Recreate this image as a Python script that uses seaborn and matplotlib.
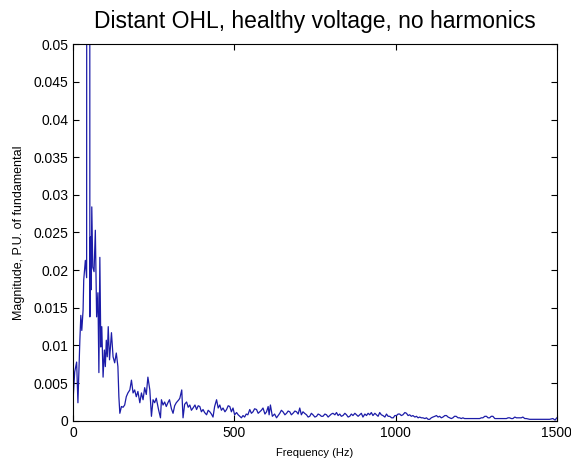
import matplotlib
matplotlib.use("Agg")
import matplotlib.pyplot as plt
import seaborn as sns

# spectrum (Hz, per-unit of the 50 Hz fundamental)
freq = [0, 5, 11, 15, 21, 24, 27, 31, 33, 38, 42, 48, 52, 54, 56, 58, 61, 65, 69, 73,
        77, 80, 83, 86, 89, 93, 97, 100, 103, 106, 109, 113, 119, 124, 129, 134, 139, 142, 145, 150,
        155, 160, 165, 170, 176, 181, 186, 191, 196, 201, 207, 212, 217, 222, 227, 232, 238, 243, 248, 253,
        258, 265, 271, 274, 279, 284, 289, 294, 299, 305, 310, 315, 320, 328, 331, 337, 341, 346, 352, 357,
        362, 367, 372, 378, 383, 388, 393, 398, 403, 408, 414, 419, 424, 429, 434, 439, 445, 450, 455, 460,
        465, 471, 476, 481, 486, 491, 496, 501, 507, 512, 517, 522, 527, 532, 537, 542, 548, 553, 558, 563,
        569, 574, 579, 584, 589, 595, 600, 605, 608, 612, 618, 625, 631, 636, 641, 646, 651, 657, 662, 667,
        672, 677, 682, 688, 693, 698, 703, 708, 713, 718, 724, 729, 734, 739, 744, 750, 755, 760, 765, 770,
        775, 781, 786, 791, 796, 801, 806, 812, 817, 822, 827, 832, 837, 843, 848, 853, 858, 863, 868, 874,
        879, 884, 889, 894, 899, 905, 910, 915, 920, 925, 930, 936, 941, 946, 951, 956, 961, 967, 972, 977,
        982, 988, 993, 998, 1003, 1008, 1013, 1018, 1023, 1029, 1034, 1039, 1044, 1049, 1054, 1060, 1065, 1070, 1075, 1080,
        1085, 1091, 1096, 1101, 1106, 1111, 1116, 1122, 1127, 1132, 1137, 1142, 1147, 1153, 1158, 1163, 1168, 1173, 1178, 1183,
        1188, 1194, 1199, 1204, 1209, 1214, 1220, 1230, 1245, 1261, 1266, 1271, 1277, 1282, 1287, 1292, 1297, 1302, 1308, 1313,
        1323, 1344, 1349, 1354, 1359, 1364, 1370, 1375, 1380, 1385, 1390, 1395, 1401, 1406, 1416, 1437, 1447, 1457, 1478, 1488,
        1495, 1500]
magnitude = [0.0028, 0.0065, 0.0078, 0.0024, 0.0107, 0.0140, 0.0120, 0.0147, 0.0187, 0.0213, 0.0190, 1.0, 0.0138, 0.0244, 0.0174, 0.0284, 0.0204, 0.0198, 0.0253, 0.0138,
             0.0170, 0.0064, 0.0217, 0.0098, 0.0125, 0.0058, 0.0094, 0.0072, 0.0107, 0.0085, 0.0125, 0.0081, 0.0117, 0.0085, 0.0077, 0.0090, 0.0072, 0.0032, 0.0010, 0.0019,
             0.0018, 0.0021, 0.0032, 0.0037, 0.0041, 0.0054, 0.0037, 0.0041, 0.0032, 0.0039, 0.0024, 0.0037, 0.0028, 0.0044, 0.0035, 0.0058, 0.0041, 0.0006, 0.0028, 0.0024,
             0.0030, 0.0015, 0.0004, 0.0028, 0.0021, 0.0025, 0.0019, 0.0024, 0.0028, 0.0016, 0.0010, 0.0020, 0.0024, 0.0028, 0.0030, 0.0041, 0.0004, 0.0022, 0.0025, 0.0018,
             0.0021, 0.0014, 0.0017, 0.0021, 0.0015, 0.0020, 0.0019, 0.0012, 0.0015, 0.0011, 0.0008, 0.0014, 0.0012, 0.0009, 0.0005, 0.0019, 0.0028, 0.0017, 0.0021, 0.0014,
             0.0017, 0.0012, 0.0015, 0.0020, 0.0019, 0.0012, 0.0017, 0.0008, 0.0011, 0.0008, 0.0006, 0.0004, 0.0007, 0.0005, 0.0009, 0.0008, 0.0015, 0.0010, 0.0012, 0.0016,
             0.0015, 0.0010, 0.0012, 0.0014, 0.0017, 0.0009, 0.0012, 0.0019, 0.0008, 0.0021, 0.0006, 0.0009, 0.0004, 0.0007, 0.0010, 0.0014, 0.0012, 0.0008, 0.0010, 0.0013,
             0.0012, 0.0008, 0.0010, 0.0013, 0.0012, 0.0009, 0.0017, 0.0008, 0.0012, 0.0010, 0.0008, 0.0005, 0.0006, 0.0010, 0.0008, 0.0005, 0.0006, 0.0009, 0.0008, 0.0006,
             0.0006, 0.0009, 0.0008, 0.0005, 0.0007, 0.0009, 0.0010, 0.0008, 0.0011, 0.0007, 0.0009, 0.0006, 0.0007, 0.0010, 0.0008, 0.0005, 0.0006, 0.0009, 0.0007, 0.0010,
             0.0008, 0.0006, 0.0008, 0.0010, 0.0005, 0.0009, 0.0007, 0.0010, 0.0008, 0.0011, 0.0007, 0.0010, 0.0008, 0.0006, 0.0011, 0.0008, 0.0007, 0.0005, 0.0009, 0.0006,
             0.0006, 0.0004, 0.0004, 0.0007, 0.0007, 0.0009, 0.0009, 0.0007, 0.0008, 0.0011, 0.0010, 0.0007, 0.0008, 0.0006, 0.0007, 0.0005, 0.0006, 0.0004, 0.0005, 0.0004,
             0.0004, 0.0003, 0.0004, 0.0002, 0.0002, 0.0004, 0.0005, 0.0006, 0.0007, 0.0005, 0.0006, 0.0004, 0.0005, 0.0007, 0.0007, 0.0005, 0.0004, 0.0003, 0.0004, 0.0006,
             0.0006, 0.0004, 0.0004, 0.0003, 0.0004, 0.0003, 0.0003, 0.0003, 0.0003, 0.0003, 0.0004, 0.0004, 0.0006, 0.0006, 0.0004, 0.0004, 0.0006, 0.0006, 0.0003, 0.0003,
             0.0003, 0.0003, 0.0004, 0.0004, 0.0003, 0.0003, 0.0005, 0.0004, 0.0004, 0.0004, 0.0004, 0.0005, 0.0003, 0.0003, 0.0002, 0.0002, 0.0002, 0.0002, 0.0002, 0.0003,
             0.0001, 0.0004]

x_ticks = [0, 500, 1000, 1500]
y_ticks = [0, 0.005, 0.01, 0.015, 0.02, 0.025, 0.03, 0.035, 0.04, 0.045, 0.05]
y_tick_labels = ["0", "0.005", "0.01", "0.015", "0.02", "0.025", "0.03", "0.035", "0.04", "0.045", "0.05"]

sns.set_style("ticks")
plt.rcParams["font.family"] = ["Liberation Sans", "DejaVu Sans"]
plt.rcParams["text.color"] = "black"
plt.rcParams["axes.labelcolor"] = "black"

fig = plt.figure(figsize=(5.71, 4.65), dpi=100)
ax = fig.add_axes([0.128, 0.095, 0.847, 0.81])

sns.lineplot(x=freq, y=magnitude, ax=ax, color="#1c1ca8", linewidth=0.9,
             estimator=None, sort=False)

ax.set_xlim(0, 1500)
ax.set_ylim(0, 0.05)
ax.set_xticks(x_ticks)
ax.set_xticklabels([str(t) for t in x_ticks])
ax.set_yticks(y_ticks)
ax.set_yticklabels(y_tick_labels)
ax.tick_params(direction="in", top=True, right=True, length=4, width=0.8,
               labelsize=10, colors="black")
for sp in ax.spines.values():
    sp.set_color("black")
    sp.set_linewidth(0.8)

ax.set_title("Distant OHL, healthy voltage, no harmonics", fontsize=16.5,
             pad=12, color="black")
ax.set_xlabel("Frequency (Hz)", fontsize=8, labelpad=6)
ax.set_ylabel("Magnitude, P.U. of fundamental", fontsize=9, labelpad=6)

fig.savefig("out.png", dpi=100, facecolor="white")
